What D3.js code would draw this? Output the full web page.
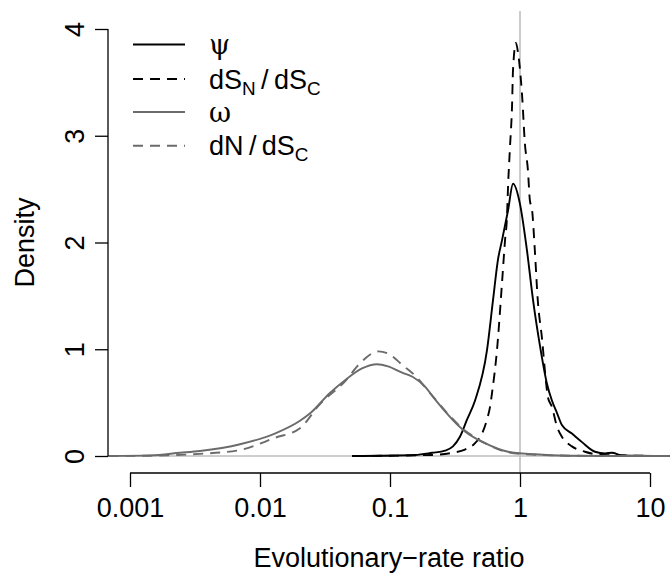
<!DOCTYPE html>
<html><head><meta charset="utf-8">
<script src="https://cdn.jsdelivr.net/npm/d3@7"></script>
<style>
html,body{margin:0;padding:0;background:#fff;}
svg text{font-family:"Liberation Sans",Arial,Helvetica,sans-serif;fill:#000;}
</style></head>
<body><svg id="chart" width="670" height="579"></svg>
<script>
// ---- data (x = evolutionary-rate ratio, y = density) ----
const psiX   = [0.0510,0.156,0.211,0.265,0.305,0.345,0.391,0.451,0.557,0.620,0.677,0.727,0.809,0.884,1.00,1.13,1.26,1.43,1.61,1.76,1.93,2.10,2.51,3.00,3.78,4.51,5.10,6.09,14.2];
const psiY   = [0,0.01,0.03,0.05,0.09,0.18,0.34,0.52,0.99,1.46,1.84,2.02,2.30,2.55,2.36,1.93,1.46,1.02,0.68,0.52,0.40,0.29,0.21,0.13,0.04,0.025,0.03,0.005,0];
const dsnX   = [0.0538,0.211,0.300,0.377,0.451,0.510,0.557,0.588,0.609,0.665,0.727,0.767,0.794,0.809,0.838,0.868,0.884,0.931,0.965,1.04,1.09,1.15,1.19,1.24,1.30,1.37,1.48,1.56,1.64,1.76,1.93,2.10,2.51,3.16,4.27,14.2];
const dsnY   = [0,0.01,0.03,0.06,0.12,0.21,0.34,0.46,0.59,0.99,1.62,2.02,2.24,2.52,2.90,3.27,3.62,3.87,3.78,3.36,2.93,2.68,2.40,2.30,1.93,1.46,1.09,0.78,0.55,0.46,0.27,0.18,0.09,0.04,0.01,0];
const omegaX = [0.00068,0.00143,0.00243,0.00345,0.00702,0.0130,0.0203,0.0243,0.0345,0.0451,0.0609,0.0794,0.0966,0.124,0.150,0.186,0.222,0.377,0.538,0.809,1.30,2.34,5.88,14.2];
const omegaY = [0,0.006,0.03,0.047,0.11,0.21,0.33,0.40,0.59,0.71,0.82,0.86,0.84,0.78,0.74,0.65,0.53,0.23,0.12,0.04,0.016,0.003,0,0];
const dndsX  = [0.00068,0.00143,0.00345,0.00702,0.0130,0.0203,0.0286,0.0451,0.0590,0.0815,0.0966,0.125,0.160,0.200,0.377,0.538,0.809,1.30,2.42,5.88,14.2];
const dndsY  = [0,0.003,0.02,0.056,0.17,0.26,0.48,0.70,0.87,0.98,0.96,0.85,0.74,0.60,0.24,0.12,0.035,0.012,0.003,0,0];

const xTicks = [0.001,0.01,0.1,1,10];
const xTickLabels = ["0.001","0.01","0.1","1","10"];
const yTicks = [0,1,2,3,4];
const yTickLabels = ["0","1","2","3","4"];
const xTitle = "Evolutionary\u2212rate ratio";
const yTitle = "Density";

const series = [
  {x: psiX,   y: psiY,   color: "#000000", dash: null},
  {x: dsnX,   y: dsnY,   color: "#000000", dash: "10,7"},
  {x: omegaX, y: omegaY, color: "#6b6b6b", dash: null},
  {x: dndsX,  y: dndsY,  color: "#6b6b6b", dash: "10,7"}
];

// ---- layout ----
const svg = d3.select("#chart");
const FS = 27;
const plot = {left:108, right:670, top:11, bottom:473};
const x = d3.scaleLog().domain([0.001,10]).range([130,650]);
const y = d3.scaleLinear().domain([0,4]).range([456,29]);

svg.append("defs").append("clipPath").attr("id","clip")
  .append("rect").attr("x",plot.left).attr("y",plot.top)
  .attr("width",plot.right-plot.left).attr("height",plot.bottom-plot.top);

// reference lines
svg.append("line").attr("x1",plot.left).attr("x2",plot.right)
  .attr("y1",y(0)).attr("y2",y(0)).attr("stroke","#bebebe").attr("stroke-width",1.6);
svg.append("line").attr("x1",x(1)).attr("x2",x(1))
  .attr("y1",plot.top).attr("y2",plot.bottom).attr("stroke","#bebebe").attr("stroke-width",1.6);

// curves
const line = d3.line().x(d=>x(d[0])).y(d=>y(d[1])).curve(d3.curveMonotoneX);
const g = svg.append("g").attr("clip-path","url(#clip)");
series.forEach(s=>{
  g.append("path").datum(s.x.map((v,i)=>[v,s.y[i]]))
    .attr("d",line).attr("fill","none").attr("stroke",s.color)
    .attr("stroke-width",1.9).attr("stroke-dasharray",s.dash);
});

// x axis
const xa = svg.append("g").attr("transform",`translate(0,${plot.bottom})`)
  .call(d3.axisBottom(x).tickValues(xTicks).tickFormat((d,i)=>xTickLabels[i]).tickSize(14).tickPadding(0));
xa.select(".domain").remove();
xa.append("line").attr("x1",x(xTicks[0])).attr("x2",x(xTicks[xTicks.length-1])).attr("stroke","#000").attr("stroke-width",1.3);
xa.selectAll(".tick line").attr("stroke-width",1.3);
xa.selectAll(".tick text").attr("font-size",FS).attr("dy",null).attr("y",44).attr("font-family",null);

// y axis
const ya = svg.append("g").attr("transform",`translate(${plot.left},0)`)
  .call(d3.axisLeft(y).tickValues(yTicks).tickFormat((d,i)=>yTickLabels[i]).tickSize(13).tickPadding(0));
ya.select(".domain").remove();
ya.append("line").attr("y1",y(yTicks[0])).attr("y2",y(yTicks[yTicks.length-1])).attr("stroke","#000").attr("stroke-width",1.3);
ya.selectAll(".tick line").attr("stroke-width",1.3);
ya.selectAll(".tick text").attr("font-size",FS).attr("font-family",null)
  .attr("x",null).attr("dy",null).attr("text-anchor","middle")
  .attr("transform","translate(-24,0) rotate(-90)");

// titles
svg.append("text").attr("x",389).attr("y",567).attr("text-anchor","middle").attr("font-size",FS).text(xTitle);
svg.append("text").attr("transform","translate(34,242.5) rotate(-90)").attr("text-anchor","middle").attr("font-size",FS).text(yTitle);

// legend
const legendRows = [
  {parts:[["\u03c8","greek"]], color:"#000000", dash:null},
  {parts:[["dS",""],["N","sub"],["\u2009/\u2009dS",""],["C","sub"]], color:"#000000", dash:"10,7"},
  {parts:[["\u03c9","greek"]], color:"#6b6b6b", dash:null},
  {parts:[["dN\u2009/\u2009dS",""],["C","sub"]], color:"#6b6b6b", dash:"10,7"}
];
const legY = [44.5,79,112,145.7];
legendRows.forEach((r,i)=>{
  svg.append("line").attr("x1",133).attr("x2",185).attr("y1",legY[i]).attr("y2",legY[i])
    .attr("stroke",r.color).attr("stroke-width",2).attr("stroke-dasharray",r.dash);
  const t = svg.append("text").attr("x",209).attr("y",legY[i]+9.5).attr("font-size",FS);
  r.parts.forEach((p,j)=>{
    const ts = t.append("tspan").text(p[0]);
    if(p[1]==="sub") ts.attr("font-size",FS*0.7).attr("dy",6);
    else if(p[1]==="greek") ts.attr("font-family","'DejaVu Serif','Liberation Serif',serif");
    if(p[1]==="" && j>0) ts.attr("dy",-6);
  });
});
</script></body></html>
